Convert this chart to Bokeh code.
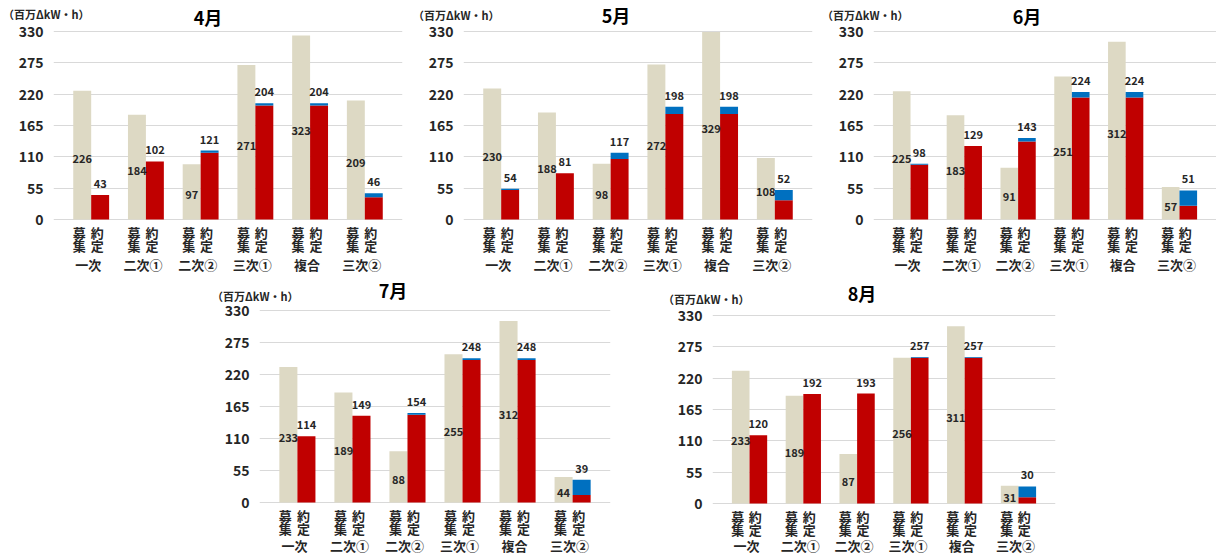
from bokeh.plotting import figure
from bokeh.models import FactorRange, Range1d, FixedTicker, ColumnDataSource, Spacer, Div
from bokeh.layouts import row, column
from bokeh.embed import file_html
from bokeh.resources import INLINE
from bokeh.core.properties import value

# ---------------- data ----------------
categories = ["一次", "二次①", "二次②", "三次①", "複合", "三次②"]
sub_labels = ["募集", "約定"]
months = ["4月", "5月", "6月", "7月", "8月"]
unit_text = "（百万ΔkW・h）"
y_ticks = [0, 55, 110, 165, 220, 275, 330]

# 募集量
recruit_apr = [226, 184, 97, 271, 323, 209]
recruit_may = [230, 188, 98, 272, 329, 108]
recruit_jun = [225, 183, 91, 251, 312, 57]
recruit_jul = [233, 189, 88, 255, 312, 44]
recruit_aug = [233, 189, 87, 256, 311, 31]

# 約定量 (total, labelled)
contract_apr = [43, 102, 121, 204, 204, 46]
contract_may = [54, 81, 117, 198, 198, 52]
contract_jun = [98, 129, 143, 224, 224, 51]
contract_jul = [114, 149, 154, 248, 248, 39]
contract_aug = [120, 192, 193, 257, 257, 30]

# blue part of 約定
contract_blue_apr = [0, 0, 4, 4, 4, 7]
contract_blue_may = [2, 0, 11, 13, 13, 18]
contract_blue_jun = [2, 0, 6, 10, 10, 27]
contract_blue_jul = [0, 0, 3, 3, 3, 26]
contract_blue_aug = [0, 0, 0, 1, 1, 19]

# ---------------- style ----------------
FONT = "Noto Sans CJK JP"
BEIGE = "#DDD9C4"
RED = "#C00000"
BLUE = "#0070C0"
TXT = "#262626"
GRID = "#D9D9D9"


def header(month, w, h, title_cx, title_cy, unit_x, unit_cy):
    html = (
        f'<div style="position:relative;width:{w}px;height:{h}px;overflow:visible;'
        f"font-family:'{FONT}',sans-serif;font-weight:bold;\">"
        f'<span style="position:absolute;left:{unit_x}px;top:{unit_cy - 7}px;'
        f'font-size:11px;line-height:14px;white-space:nowrap;color:{TXT};">{unit_text}</span>'
        f'<span style="position:absolute;left:{title_cx - 40}px;width:80px;text-align:center;'
        f'top:{title_cy - 11}px;font-size:18px;line-height:22px;white-space:nowrap;color:#000;">{month}</span>'
        f'</div>'
    )
    return Div(text=html, width=w, height=h, margin=0,
               styles={"overflow": "visible", "z-index": "5"})


def make_chart(recruit, total, blue, frame_w, plot_px, below_px, border_right):
    k = 330.0 / plot_px          # data units per pixel
    factors = [(c, s) for c in categories for s in sub_labels]
    p = figure(
        x_range=FactorRange(*factors, group_padding=1.05, range_padding=1.1,
                            range_padding_units="absolute"),
        y_range=Range1d(-below_px * k, 330 + k),
        frame_width=frame_w, frame_height=plot_px + 1 + below_px,
        min_border_left=53, min_border_right=border_right,
        min_border_top=10, min_border_bottom=0,
        output_backend="svg", toolbar_location=None,
        outline_line_color=None, background_fill_color="white",
        border_fill_color=None,
    )
    red = [t - b for t, b in zip(total, blue)]
    src = ColumnDataSource(dict(
        xr=[(c, sub_labels[0]) for c in categories],
        xc=[(c, sub_labels[1]) for c in categories],
        recruit=recruit, total=total, red=red,
        half=[v / 2 for v in recruit],
        rl=[str(v) for v in recruit], cl=[str(v) for v in total],
    ))
    p.vbar(x="xr", top="recruit", width=1.0, source=src, fill_color=BEIGE, line_color=None)
    p.vbar(x="xc", top="red", width=1.0, source=src, fill_color=RED, line_color=None)
    p.vbar(x="xc", bottom="red", top="total", width=1.0, source=src, fill_color=BLUE, line_color=None)
    lbl = dict(text_font=value(FONT), text_font_size="11px", text_font_style="bold",
               text_color=TXT, text_align="center")
    p.text(x="xr", y="half", text="rl", source=src, text_baseline="middle", y_offset=3, **lbl)
    p.text(x="xc", y="total", text="cl", source=src, text_baseline="bottom", y_offset=-7, **lbl)

    # category axis labels (two stacked characters + group name)
    grp_px = min(44.5, below_px - 9.8)
    ax_src = ColumnDataSource(dict(
        x=factors,
        c1=[s[0] for c in categories for s in sub_labels],
        c2=[s[1] for c in categories for s in sub_labels],
        y1=[-13 * k] * len(factors),
        y2=[-26 * k] * len(factors),
    ))
    grp_src = ColumnDataSource(dict(x=categories, text=categories, y=[-grp_px * k] * len(categories)))
    ax = dict(text_font=value(FONT), text_font_size="13px", text_font_style="bold",
              text_color=TXT, text_align="center", text_baseline="middle", x_offset=-3)
    p.text(x="x", y="y1", text="c1", source=ax_src, **ax)
    p.text(x="x", y="y2", text="c2", source=ax_src, **ax)
    p.text(x="x", y="y", text="text", source=grp_src, **ax)

    p.xaxis.visible = False
    ya = p.yaxis[0]
    ya.ticker = FixedTicker(ticks=y_ticks)
    ya.axis_line_color = None
    ya.major_tick_line_color = None
    ya.minor_tick_line_color = None
    ya.major_tick_out = 0
    ya.major_label_standoff = 10
    ya.major_label_text_font = FONT
    ya.major_label_text_font_size = "14px"
    ya.major_label_text_font_style = "bold"
    ya.major_label_text_color = TXT

    p.xgrid.visible = False
    p.ygrid.ticker = FixedTicker(ticks=y_ticks)
    p.ygrid.grid_line_color = GRID
    return p


f4 = make_chart(recruit_apr, contract_apr, contract_blue_apr, 349, 188, 59, 8)
f5 = make_chart(recruit_may, contract_may, contract_blue_may, 349, 188, 59, 8)
f6 = make_chart(recruit_jun, contract_jun, contract_blue_jun, 343, 188, 59, 0)
f7 = make_chart(recruit_jul, contract_jul, contract_blue_jul, 351, 192, 53, 8)
f8 = make_chart(recruit_aug, contract_aug, contract_blue_aug, 343, 188, 52, 8)

h4 = header(months[0], 410, 20, 208, 17, 3, 14)
h5 = header(months[1], 410, 20, 206, 15, 3, 15)
h6 = header(months[2], 396, 20, 207, 16, 2, 15)
h7 = header(months[3], 412, 21, 187, 12, 6, 18)
h8 = header(months[4], 404, 26, 203, 15, 4, 21)

layout = column(
    row(column(h4, f4), column(h5, f5), column(h6, f6)),
    row(Spacer(width=206, height=10), column(h7, f7), Spacer(width=41, height=10), column(h8, f8)),
)

with open("out.html", "w") as fh:
    fh.write(file_html(layout, INLINE))
